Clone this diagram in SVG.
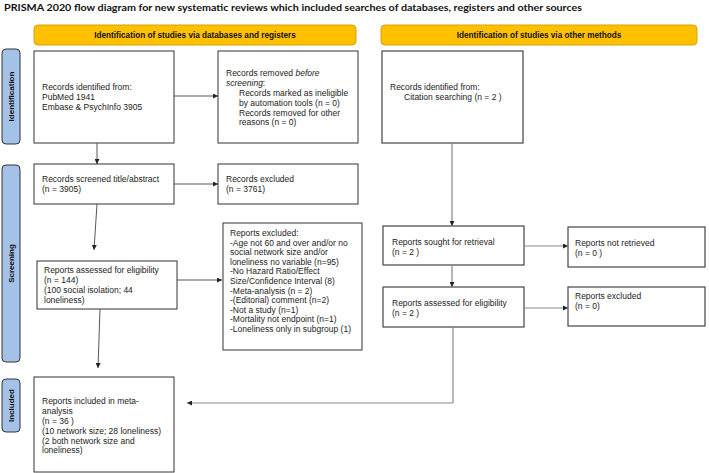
<svg xmlns="http://www.w3.org/2000/svg" width="709" height="473" viewBox="0 0 709 473">
<defs>
<marker id="ah" viewBox="0 0 10 10" refX="10" refY="5" markerWidth="5" markerHeight="5" orient="auto" markerUnits="userSpaceOnUse">
<path d="M0,0 L10,5 L0,10 z" fill="#222"/>
</marker>
<marker id="ahg" viewBox="0 0 10 10" refX="10" refY="5" markerWidth="5" markerHeight="5" orient="auto" markerUnits="userSpaceOnUse">
<path d="M0,0 L10,5 L0,10 z" fill="#222"/>
</marker>
</defs>
<style>
text{font-family:"Liberation Sans",Arial,sans-serif;font-size:8.5px;fill:#222}
.title{font-family:Lato,"Liberation Sans",sans-serif;font-weight:bold;font-size:10px;fill:#111}
.hdr{font-weight:bold;font-size:8.2px;fill:#111}
.side{font-weight:bold;font-size:8px;fill:#111}
.box{fill:#fff;stroke:#333;stroke-width:1}
.boxr{fill:#fff;stroke:#444;stroke-width:1.2}
.hbar{fill:#ffc000;stroke:#d9a300;stroke-width:1}
.sbar{fill:#a4c2e8;stroke:#333;stroke-width:1}
.c{fill:none;stroke:#444;stroke-width:0.9;marker-end:url(#ah)}
.cg{fill:none;stroke:#888;stroke-width:1.2;marker-end:url(#ahg)}
.cn{fill:none;stroke:#888;stroke-width:1.2}
</style>
<rect x="0" y="0" width="709" height="473" fill="#fff"/>
<text class="title" x="4" y="11" textLength="578" lengthAdjust="spacingAndGlyphs">PRISMA 2020 flow diagram for new systematic reviews which included searches of databases, registers and other sources</text>

<g id="header-left">
<rect class="hbar" x="34" y="25" width="322" height="20" rx="4"/>
<text class="hdr" x="195" y="38" text-anchor="middle">Identification of studies via databases and registers</text>
</g>
<g id="header-right">
<rect class="hbar" x="381" y="25" width="316" height="20" rx="4"/>
<text class="hdr" x="539" y="38" text-anchor="middle">Identification of studies via other methods</text>
</g>

<g id="side-identification">
<rect class="sbar" x="2" y="49" width="18" height="95" rx="4"/>
<text class="side" transform="translate(14,96.5) rotate(-90)" text-anchor="middle">Identification</text>
</g>
<g id="side-screening">
<rect class="sbar" x="2" y="165" width="18" height="197" rx="4"/>
<text class="side" transform="translate(14,263.5) rotate(-90)" text-anchor="middle">Screening</text>
</g>
<g id="side-included">
<rect class="sbar" x="2" y="379" width="18" height="53" rx="4"/>
<text class="side" transform="translate(14,405.5) rotate(-90)" text-anchor="middle">Included</text>
</g>

<g id="records-identified">
<rect class="box" x="34" y="51" width="140" height="92"/>
<text x="42" y="90">Records identified from:</text>
<text x="42" y="100">PubMed 1941</text>
<text x="42" y="110">Embase &amp; PsychInfo 3905</text>
</g>

<g id="records-removed">
<rect class="box" x="218" y="51" width="140" height="92"/>
<text x="226" y="76.4">Records removed <tspan font-style="italic">before</tspan></text>
<text x="226" y="86.2"><tspan font-style="italic">screening</tspan>:</text>
<text x="239" y="96">Records marked as ineligible</text>
<text x="239" y="105.8">by automation tools (n = 0)</text>
<text x="239" y="115.6">Records removed for other</text>
<text x="239" y="125.4">reasons (n = 0)</text>
</g>

<g id="citation-identified">
<rect class="boxr" x="382" y="51" width="141" height="92"/>
<text x="390" y="90">Records identified from:</text>
<text x="404" y="100">Citation searching (n = 2 )</text>
</g>

<g id="records-screened">
<rect class="box" x="34" y="164" width="140" height="40"/>
<text x="42" y="182">Records screened title/abstract</text>
<text x="42" y="192">(n = 3905)</text>
</g>

<g id="records-excluded">
<rect class="box" x="218" y="164" width="140" height="40"/>
<text x="226" y="182">Records excluded</text>
<text x="226" y="192">(n = 3761)</text>
</g>

<g id="reports-assessed-left">
<rect class="box" x="37" y="261" width="140" height="48"/>
<text x="44" y="273">Reports assessed for eligibility</text>
<text x="44" y="283">(n = 144)</text>
<text x="44" y="293">(100 social isolation; 44</text>
<text x="44" y="303">loneliness)</text>
</g>

<g id="reports-excluded-left">
<rect class="box" x="223" y="223" width="139" height="127"/>
<text x="230" y="236">Reports excluded:</text>
<text x="230" y="245.6">-Age not 60 and over and/or no</text>
<text x="230" y="255.2">social network size and/or</text>
<text x="230" y="264.8">loneliness no variable (n=95)</text>
<text x="230" y="274.4">-No Hazard Ratio/Effect</text>
<text x="230" y="284">Size/Confidence Interval (8)</text>
<text x="230" y="293.6">-Meta-analysis (n = 2)</text>
<text x="230" y="303.2">-(Editorial) comment (n=2)</text>
<text x="230" y="312.8">-Not a study (n=1)</text>
<text x="230" y="322.4">-Mortality not endpoint (n=1)</text>
<text x="230" y="332">-Loneliness only in subgroup (1)</text>
</g>

<g id="reports-sought">
<rect class="boxr" x="383" y="226" width="141" height="39"/>
<text x="392" y="245">Reports sought for retrieval</text>
<text x="392" y="255">(n = 2 )</text>
</g>

<g id="reports-not-retrieved">
<rect class="boxr" x="568" y="227" width="137" height="40"/>
<text x="575" y="246">Reports not retrieved</text>
<text x="575" y="256">(n = 0 )</text>
</g>

<g id="reports-assessed-right">
<rect class="boxr" x="383" y="287" width="141" height="40"/>
<text x="392" y="306">Reports assessed for eligibility</text>
<text x="392" y="316">(n = 2 )</text>
</g>

<g id="reports-excluded-right">
<rect class="boxr" x="568" y="287" width="137" height="39"/>
<text x="575" y="299">Reports excluded</text>
<text x="575" y="309">(n = 0)</text>
</g>

<g id="reports-included">
<rect class="box" x="34" y="377" width="140" height="95"/>
<text x="42" y="404">Reports included in meta-</text>
<text x="42" y="414">analysis</text>
<text x="42" y="424">(n = 36 )</text>
<text x="42" y="434">(10 network size; 28 loneliness)</text>
<text x="42" y="443.5">(2 both network size and</text>
<text x="42" y="453">loneliness)</text>
</g>

<g id="connectors">
<path class="c" d="M174,96 L218,96"/>
<path class="c" d="M97,143 L97,164"/>
<path class="c" d="M174,184 L218,184"/>
<path class="c" d="M97,204 L94,250"/>
<path class="c" d="M177,280 L222,280"/>
<path class="c" d="M100,309 L98,368"/>
<path class="cg" d="M452,143 L452,226"/>
<path class="cg" d="M524,246 L568,246"/>
<path class="cg" d="M452,265 L452,287"/>
<path class="cg" d="M524,308 L568,308"/>
<path class="cn" d="M453,327 L453,403"/>
<path class="cg" d="M453,403 L187,403"/>
</g>
</svg>
